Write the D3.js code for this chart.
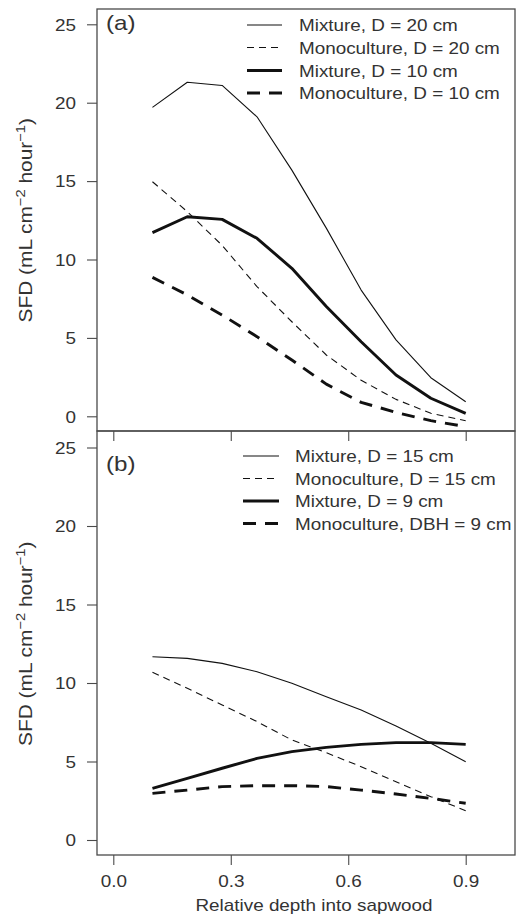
<!DOCTYPE html>
<html>
<head>
<meta charset="utf-8">
<script src="https://cdn.jsdelivr.net/npm/d3@7"></script>
<style>
  body { margin: 0; background: #fff; }
  svg { display: block; }
</style>
</head>
<body>
<div id="chart"></div>
<script>
// relative depth into sapwood (x)
var depth = [0.1, 0.189, 0.278, 0.367, 0.456, 0.544, 0.633, 0.722, 0.811, 0.9];

// panel (a)
var mixA20 = [19.7, 21.3, 21.1, 19.1, 15.7, 12.0, 8.05, 4.87, 2.46, 0.93];
var monoA20 = [14.96, 13.05, 10.9, 8.27, 6.03, 3.91, 2.3, 1.08, 0.19, -0.28];
var mixA10 = [11.71, 12.73, 12.56, 11.35, 9.44, 7.0, 4.75, 2.63, 1.15, 0.19];
var monoA10 = [8.86, 7.74, 6.46, 5.08, 3.59, 2.05, 0.89, 0.25, -0.28, -0.66];

// panel (b)
var mixB15 = [11.67, 11.57, 11.25, 10.72, 9.98, 9.13, 8.28, 7.26, 6.16, 4.99];
var monoB15 = [10.68, 9.66, 8.6, 7.54, 6.37, 5.56, 4.67, 3.71, 2.76, 1.87];
var mixB9 = [3.29, 3.93, 4.57, 5.2, 5.63, 5.9, 6.09, 6.2, 6.2, 6.09];
var monoB9 = [2.97, 3.18, 3.4, 3.46, 3.46, 3.4, 3.18, 2.93, 2.65, 2.34];

var labelsA = ["Mixture, D = 20 cm", "Monoculture, D = 20 cm", "Mixture, D = 10 cm", "Monoculture, D = 10 cm"];
var labelsB = ["Mixture, D = 15 cm", "Monoculture, D = 15 cm", "Mixture, D = 9 cm", "Monoculture, DBH = 9 cm"];

var yTicks = [0, 5, 10, 15, 20, 25];
var xTicks = [0, 0.3, 0.6, 0.9];

var svgWidth = 516, svgHeight = 917;
var left = 97, right = 515;
var font = "'Liberation Sans', Arial, sans-serif";
var textCol = "#333";
var boxCol = "#4a4a4a";
var sx = 1.18; // the reference text is a little wider than normal

// line styles: thin/thick, solid/dashed
var styles = [
  {w: 1.1, dash: null},
  {w: 1.1, dash: "7,5"},
  {w: 2.9, dash: null},
  {w: 2.9, dash: "13,9"}
];

var svg = d3.select("#chart").append("svg")
  .attr("width", svgWidth)
  .attr("height", svgHeight);

var x = d3.scaleLinear().domain([0, 0.9]).range([113.3, 465.7]);

var panels = [
  {top: 9, bottom: 431, y0: 416.3, y25: 24.3, tag: "(a)", tagY: 30,
   series: [mixA20, monoA20, mixA10, monoA10], labels: labelsA,
   legX1: 247, legX2: 282, legText: 299, legY: [25, 47.5, 70.5, 93], labelled: false},
  {top: 431, bottom: 855, y0: 840, y25: 447.5, tag: "(b)", tagY: 471,
   series: [mixB15, monoB15, mixB9, monoB9], labels: labelsB,
   legX1: 243, legX2: 279, legText: 295, legY: [456, 478.5, 501, 523.5], labelled: true}
];

function stretchedText(g, tx, ty, str, anchor, size) {
  return g.append("text")
    .attr("transform", "translate(" + tx + "," + ty + ") scale(" + sx + ",1)")
    .attr("text-anchor", anchor)
    .attr("font-family", font)
    .attr("font-size", size)
    .attr("fill", textCol)
    .text(str);
}

panels.forEach(function(p) {
  var y = d3.scaleLinear().domain([0, 25]).range([p.y0, p.y25]);
  var g = svg.append("g");

  // y axis
  var yAxis = g.append("g")
    .attr("transform", "translate(" + left + ",0)")
    .call(d3.axisLeft(y).tickValues(yTicks).tickSize(10).tickPadding(8).tickFormat(d3.format("d")));
  yAxis.select(".domain").remove();
  yAxis.selectAll("line").attr("stroke", boxCol).attr("stroke-width", 1.1);
  yAxis.selectAll("text")
    .attr("font-family", font)
    .attr("font-size", 16)
    .attr("fill", textCol)
    .attr("x", -21 / sx)
    .attr("dy", "0.36em")
    .attr("transform", "scale(" + sx + ",1)");

  // x axis
  var xAxis = g.append("g")
    .attr("transform", "translate(0," + p.bottom + ")")
    .call(d3.axisBottom(x).tickValues(xTicks).tickSize(10)
      .tickFormat(p.labelled ? d3.format(".1f") : function() { return ""; }));
  xAxis.select(".domain").remove();
  xAxis.selectAll("line").attr("stroke", boxCol).attr("stroke-width", 1.1);
  xAxis.selectAll("text")
    .attr("font-family", font)
    .attr("font-size", 16)
    .attr("fill", textCol)
    .attr("y", 32)
    .attr("dy", 0)
    .attr("transform", "scale(" + sx + ",1)");

  // series
  var line = d3.line()
    .x(function(d, i) { return x(depth[i]); })
    .y(function(d) { return y(d); });

  p.series.forEach(function(s, i) {
    g.append("path")
      .datum(s)
      .attr("d", line)
      .attr("fill", "none")
      .attr("stroke", "#111")
      .attr("stroke-width", styles[i].w)
      .attr("stroke-dasharray", styles[i].dash)
      .attr("stroke-linejoin", "round");
  });

  // box
  g.append("rect")
    .attr("x", left)
    .attr("y", p.top)
    .attr("width", right - left)
    .attr("height", p.bottom - p.top)
    .attr("fill", "none")
    .attr("stroke", boxCol)
    .attr("stroke-width", 1.3);

  // panel tag
  stretchedText(g, 106, p.tagY, p.tag, "start", 20.5);

  // legend
  p.labels.forEach(function(lab, i) {
    g.append("line")
      .attr("x1", p.legX1).attr("x2", p.legX2)
      .attr("y1", p.legY[i]).attr("y2", p.legY[i])
      .attr("stroke", "#111")
      .attr("stroke-width", styles[i].w)
      .attr("stroke-dasharray", styles[i].dash);
    stretchedText(g, p.legText, p.legY[i] + 6, lab, "start", 16);
  });

  // y axis title
  var cy = (p.y0 + p.y25) / 2;
  var t = g.append("text")
    .attr("transform", "translate(32," + cy + ") rotate(-90) scale(1.13,1)")
    .attr("text-anchor", "middle")
    .attr("font-family", font)
    .attr("font-size", 18.5)
    .attr("fill", textCol);
  t.append("tspan").text("SFD (mL cm");
  t.append("tspan").attr("dy", -7).attr("font-size", 13).text("\u22122");
  t.append("tspan").attr("dy", 7).text(" hour");
  t.append("tspan").attr("dy", -7).attr("font-size", 13).text("\u22121");
  t.append("tspan").attr("dy", 7).text(")");
});

// x axis title
stretchedText(svg, 314, 911, "Relative depth into sapwood", "middle", 16);
</script>
</body>
</html>
